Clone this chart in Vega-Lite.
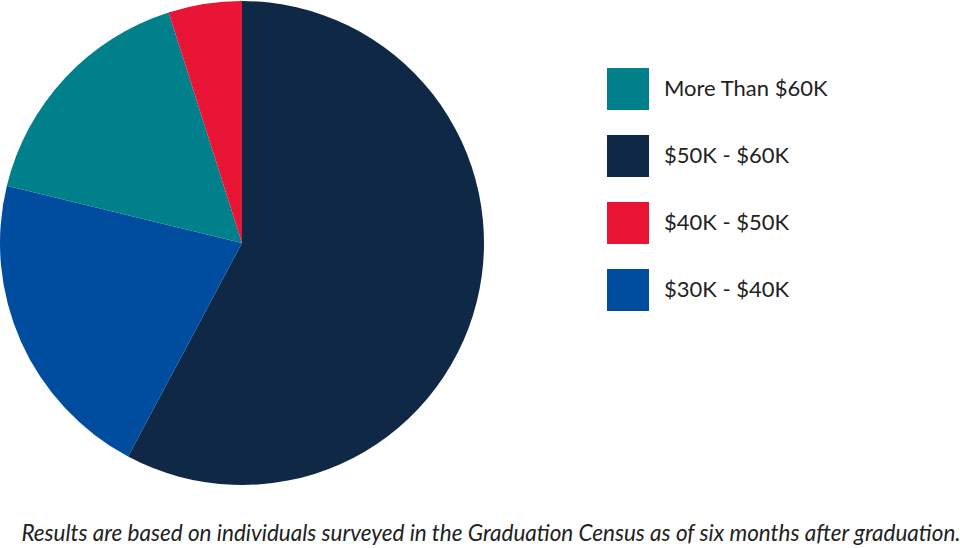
{
  "$schema": "https://vega.github.io/schema/vega-lite/v6.json",
  "autosize": {"type": "pad"},
  "padding": 0,
  "width": 484,
  "height": 486,
  "background": "white",
  "title": {
    "text": "Results are based on individuals surveyed in the Graduation Census as of six months after graduation.",
    "orient": "bottom",
    "anchor": "middle",
    "frame": "group",
    "dx": 249,
    "offset": 55,
    "font": "Lato",
    "fontSize": 22.5,
    "fontStyle": "italic",
    "fontWeight": "normal",
    "color": "#222222",
    "baseline": "alphabetic",
    "limit": 1000
  },
  "data": {
    "values": [
      {"range": "$50K - $60K", "pct": 57.8, "ord": 1},
      {"range": "$30K - $40K", "pct": 21.0, "ord": 2},
      {"range": "More Than $60K", "pct": 16.3, "ord": 3},
      {"range": "$40K - $50K", "pct": 4.9, "ord": 4}
    ]
  },
  "mark": {"type": "arc", "outerRadius": 242, "stroke": null},
  "encoding": {
    "theta": {"field": "pct", "type": "quantitative", "stack": true},
    "order": {"field": "ord", "type": "quantitative"},
    "color": {
      "field": "range",
      "type": "nominal",
      "scale": {
        "domain": ["More Than $60K", "$50K - $60K", "$40K - $50K", "$30K - $40K"],
        "range": ["#00808A", "#0F2846", "#E81535", "#004DA0"]
      },
      "legend": {
        "title": null,
        "orient": "none",
        "legendX": 607,
        "legendY": 68,
        "symbolType": "square",
        "symbolSize": 1764,
        "symbolStrokeWidth": 0,
        "symbolOpacity": 1,
        "labelFont": "Lato",
        "labelFontSize": 22,
        "labelColor": "#222222",
        "labelOffset": 15,
        "labelLimit": 400,
        "rowPadding": 25,
        "padding": 0
      }
    }
  },
  "config": {"view": {"stroke": null}}
}
